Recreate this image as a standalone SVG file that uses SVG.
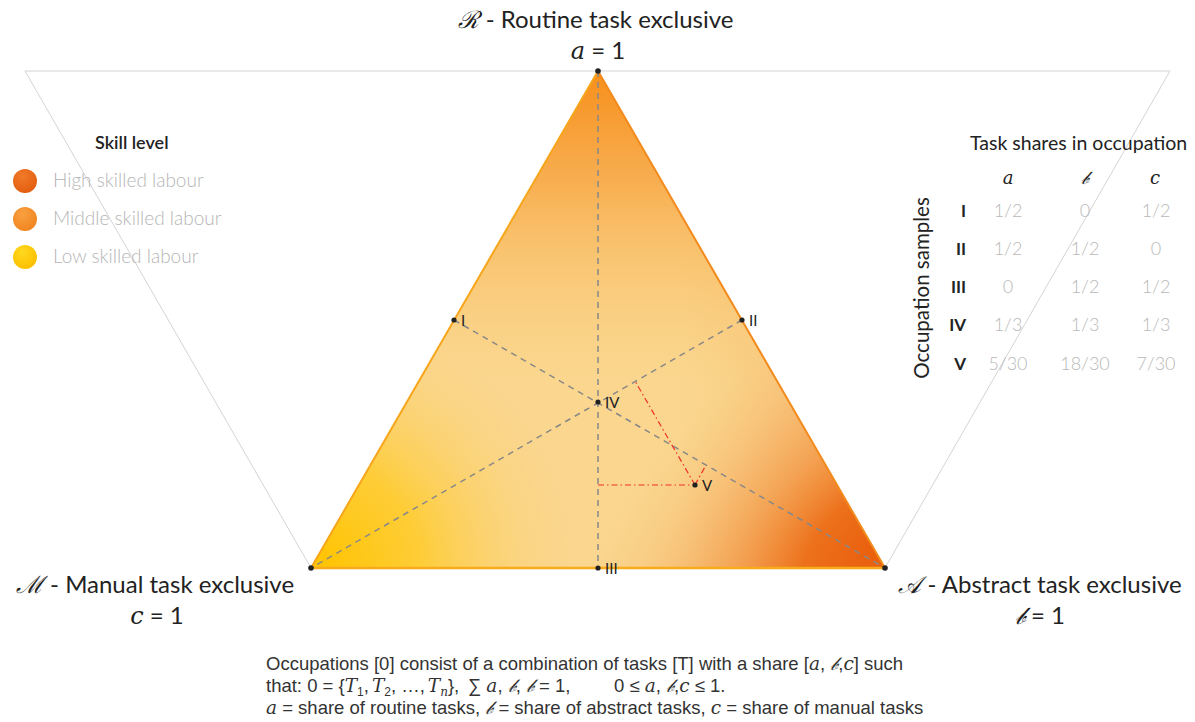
<svg xmlns="http://www.w3.org/2000/svg" width="1195" height="722" viewBox="0 0 1195 722">
  <style>
    .title { font-family: Lato, "Open Sans", sans-serif; font-size: 24px; fill: #222; }
    .math { font-family: "DejaVu Serif", "Liberation Serif", serif; font-style: italic; }
    .leg { font-family: Lato, "Open Sans", sans-serif; font-size: 19px; fill: #b5b5b5; font-weight: 300; }
    .head { font-family: Lato, "Open Sans", sans-serif; fill: #222; }
    .cell { font-family: Lato, "Open Sans", sans-serif; font-size: 18px; fill: #b8b8b8; text-anchor: middle; font-weight: 300; }
    .row { font-family: Lato, "Open Sans", sans-serif; font-size: 17px; fill: #222; font-weight: bold; text-anchor: end; }
    .pt { font-family: Lato, "Open Sans", sans-serif; font-size: 15px; fill: #222; }
    .note { font-family: "Liberation Sans", sans-serif; font-size: 18.5px; fill: #333; }
    .guide { stroke: #888; stroke-width: 1.5; stroke-dasharray: 6 5; fill: none; }
    .proj { stroke: #f0302a; stroke-width: 1.2; stroke-dasharray: 6 3 1.5 3; fill: none; }
    .frame { stroke: #d4d4d4; stroke-width: 1; fill: none; }
    .dot { fill: #222; }
  </style>
  <defs>
    <clipPath id="tri">
      <polygon points="598,71 885,568 311,568"/>
    </clipPath>
    <linearGradient id="topGrad" x1="0" y1="71" x2="0" y2="380" gradientUnits="userSpaceOnUse">
      <stop offset="0" stop-color="#f78e1a" stop-opacity="1"/>
      <stop offset="0.35" stop-color="#f7a03a" stop-opacity="0.75"/>
      <stop offset="1" stop-color="#f9c870" stop-opacity="0"/>
    </linearGradient>
    <radialGradient id="leftGrad" cx="320" cy="565" r="250" gradientUnits="userSpaceOnUse">
      <stop offset="0" stop-color="#ffc400" stop-opacity="1"/>
      <stop offset="0.4" stop-color="#ffca20" stop-opacity="0.8"/>
      <stop offset="1" stop-color="#fbd37a" stop-opacity="0"/>
    </radialGradient>
    <radialGradient id="rightGrad" cx="880" cy="550" r="280" gradientUnits="userSpaceOnUse" gradientTransform="translate(880 550) rotate(-40) scale(1.3 0.8) translate(-880 -550)">
      <stop offset="0" stop-color="#e95e0c" stop-opacity="1"/>
      <stop offset="0.25" stop-color="#ec6c16" stop-opacity="0.95"/>
      <stop offset="0.5" stop-color="#f18e3c" stop-opacity="0.65"/>
      <stop offset="0.8" stop-color="#f5ad64" stop-opacity="0.25"/>
      <stop offset="1" stop-color="#f6b870" stop-opacity="0"/>
    </radialGradient>
    <linearGradient id="rightEdge" x1="680" y1="0" x2="885" y2="0" gradientUnits="userSpaceOnUse">
      <stop offset="0" stop-color="#f4b060" stop-opacity="0"/>
      <stop offset="1" stop-color="#f28a30" stop-opacity="0.45"/>
    </linearGradient>
    <radialGradient id="bHigh" cx="0.4" cy="0.3" r="0.7">
      <stop offset="0" stop-color="#f07a28"/>
      <stop offset="1" stop-color="#e45e10"/>
    </radialGradient>
    <radialGradient id="bMid" cx="0.4" cy="0.3" r="0.7">
      <stop offset="0" stop-color="#f9a040"/>
      <stop offset="1" stop-color="#f08620"/>
    </radialGradient>
    <radialGradient id="bLow" cx="0.4" cy="0.3" r="0.7">
      <stop offset="0" stop-color="#ffd820"/>
      <stop offset="1" stop-color="#fcc000"/>
    </radialGradient>
  </defs>

  <rect width="1195" height="722" fill="#ffffff"/>

  <!-- outer reference frame (inverted triangle) -->
  <g id="frame">
    <line class="frame" x1="25" y1="71" x2="1170" y2="71"/>
    <line class="frame" x1="25" y1="71" x2="311" y2="568"/>
    <line class="frame" x1="1170" y1="71" x2="885" y2="568"/>
  </g>

  <!-- shaded task simplex -->
  <g id="simplex">
    <g clip-path="url(#tri)">
      <rect x="300" y="60" width="600" height="520" fill="#fad68e"/>
      <rect x="300" y="60" width="600" height="520" fill="url(#rightEdge)"/>
      <rect x="300" y="60" width="600" height="520" fill="url(#topGrad)"/>
      <rect x="300" y="60" width="600" height="520" fill="url(#leftGrad)"/>
      <rect x="300" y="60" width="600" height="520" fill="url(#rightGrad)"/>
    </g>
    <line x1="598" y1="71" x2="311" y2="568" stroke="#f7a51a" stroke-width="2"/>
    <line x1="598" y1="71" x2="885" y2="568" stroke="#f28a1c" stroke-width="2"/>
    <line x1="311" y1="568" x2="885" y2="568" stroke="#f8ac1a" stroke-width="2.5"/>
  </g>

  <!-- connectors: medians and projections of sample V -->
  <g id="connectors">
    <line class="guide" x1="598" y1="71" x2="598" y2="568"/>
    <line class="guide" x1="454" y1="320" x2="885" y2="568"/>
    <line class="guide" x1="742" y1="320" x2="311" y2="568"/>
    <line class="proj" x1="598" y1="485" x2="695" y2="485"/>
    <line class="proj" x1="695" y1="485" x2="635" y2="381"/>
    <line class="proj" x1="695" y1="485" x2="706" y2="465"/>
  </g>

  <!-- vertices -->
  <g id="vertex-R">
    <circle class="dot" cx="598" cy="71" r="2.8"/>
    <text class="title" x="596" y="28" text-anchor="middle"><tspan class="math">ℛ</tspan> - Routine task exclusive</text>
    <text class="title" x="598" y="59" text-anchor="middle"><tspan class="math">a</tspan>  =  1</text>
  </g>
  <g id="vertex-M">
    <circle class="dot" cx="311" cy="568" r="2.8"/>
    <text class="title" x="155" y="593" text-anchor="middle"><tspan class="math">ℳ</tspan> - Manual task exclusive</text>
    <text class="title" x="157" y="624" text-anchor="middle"><tspan class="math">c</tspan>  =  1</text>
  </g>
  <g id="vertex-A">
    <circle class="dot" cx="885" cy="568" r="2.8"/>
    <text class="title" x="1040" y="593" text-anchor="middle"><tspan class="math">𝒜</tspan> - Abstract task exclusive</text>
    <text class="title" x="1040" y="624" text-anchor="middle"><tspan class="math">𝒷</tspan><tspan dx="6">= 1</tspan></text>
  </g>

  <!-- occupation samples -->
  <g id="sample-I">
    <circle class="dot" cx="454" cy="320" r="2.6"/>
    <text class="pt" x="461" y="326">I</text>
  </g>
  <g id="sample-II">
    <circle class="dot" cx="742" cy="320" r="2.6"/>
    <text class="pt" x="749" y="326">II</text>
  </g>
  <g id="sample-III">
    <circle class="dot" cx="598" cy="568" r="2.6"/>
    <text class="pt" x="605" y="574">III</text>
  </g>
  <g id="sample-IV">
    <circle class="dot" cx="598" cy="402" r="2.6"/>
    <text class="pt" x="605" y="408">IV</text>
  </g>
  <g id="sample-V">
    <circle class="dot" cx="695" cy="485" r="2.6"/>
    <text class="pt" x="702" y="491">V</text>
  </g>

  <!-- skill level legend -->
  <g id="legend">
    <text class="head" x="95" y="149" style="font-size:18px;font-weight:600">Skill level</text>
    <circle cx="25" cy="181" r="12" fill="url(#bHigh)"/>
    <text class="leg" x="53" y="187">High skilled labour</text>
    <circle cx="25" cy="219" r="12" fill="url(#bMid)"/>
    <text class="leg" x="53" y="225">Middle skilled labour</text>
    <circle cx="25" cy="257" r="12" fill="url(#bLow)"/>
    <text class="leg" x="53" y="263">Low skilled labour</text>
  </g>

  <!-- task share table -->
  <g id="table">
    <text class="head" x="970" y="150" style="font-size:19.5px">Task shares in occupation</text>
    <text class="math" x="1008" y="184" font-size="18" text-anchor="middle" fill="#222">a</text>
    <text class="math" x="1085" y="184" font-size="18" text-anchor="middle" fill="#222">𝒷</text>
    <text class="math" x="1155" y="184" font-size="18" text-anchor="middle" fill="#222">c</text>
    <text class="head" transform="translate(929 288) rotate(-90)" text-anchor="middle" style="font-size:20.5px">Occupation samples</text>
    <text class="row" x="966" y="217">I</text>
    <text class="cell" x="1008" y="217">1/2</text><text class="cell" x="1085" y="217">0</text><text class="cell" x="1156" y="217">1/2</text>
    <text class="row" x="966" y="255">II</text>
    <text class="cell" x="1008" y="255">1/2</text><text class="cell" x="1085" y="255">1/2</text><text class="cell" x="1156" y="255">0</text>
    <text class="row" x="966" y="293">III</text>
    <text class="cell" x="1008" y="293">0</text><text class="cell" x="1085" y="293">1/2</text><text class="cell" x="1156" y="293">1/2</text>
    <text class="row" x="966" y="331">IV</text>
    <text class="cell" x="1008" y="331">1/3</text><text class="cell" x="1085" y="331">1/3</text><text class="cell" x="1156" y="331">1/3</text>
    <text class="row" x="966" y="370">V</text>
    <text class="cell" x="1008" y="370">5/30</text><text class="cell" x="1085" y="370">18/30</text><text class="cell" x="1156" y="370">7/30</text>
  </g>

  <!-- definition note -->
  <g id="note">
    <text class="note" x="266" y="670">Occupations [0] consist of a combination of tasks [T] with a share [<tspan class="math">a</tspan>, <tspan class="math">𝒷</tspan>,<tspan class="math">c</tspan>] such</text>
    <text class="note" x="266" y="692">that: 0 = {<tspan class="math">T</tspan><tspan font-size="12" dy="4">1</tspan><tspan dy="-4">,</tspan><tspan class="math" dx="3">T</tspan><tspan font-size="12" dy="4">2</tspan><tspan dy="-4">, …,</tspan><tspan class="math" dx="3">T</tspan><tspan class="math" font-size="12" dy="4">n</tspan><tspan dy="-4">},</tspan></text>
    <text class="note" x="468" y="692">∑ <tspan class="math">a</tspan>, <tspan class="math">𝒷</tspan>, <tspan class="math">𝒷</tspan>  = 1,</text>
    <text class="note" x="614" y="692">0 ≤ <tspan class="math">a</tspan>, <tspan class="math">𝒷</tspan>,<tspan class="math">c</tspan> ≤ 1.</text>
    <text class="note" x="266" y="714"><tspan class="math">a</tspan> = share of routine tasks, <tspan class="math">𝒷</tspan> = share of abstract tasks, <tspan class="math">c</tspan> = share of manual tasks</text>
  </g>
</svg>
